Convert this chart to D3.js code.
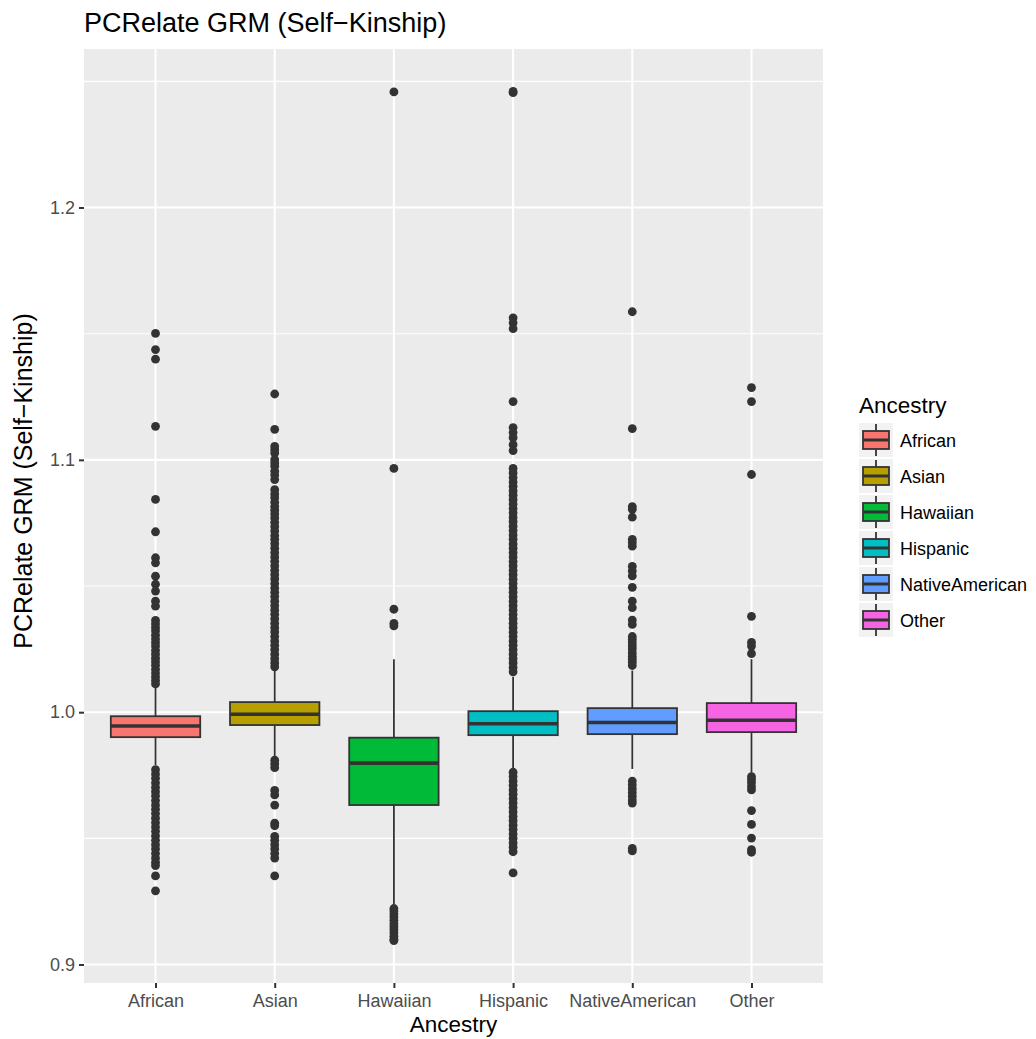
<!DOCTYPE html>
<html lang="en">
<head>
    <meta charset="UTF-8">
    <title>PCRelate GRM (Self-Kinship)</title>
    <script src="https://d3js.org/d3.v7.min.js"></script>
    <style>
        body { margin: 0; background: #fff; }
        text { font-family: "Liberation Sans", Arial, Helvetica, sans-serif; }
    </style>
</head>
<body>
<div id="chart"></div>
<script>
// categories and fill colours (ggplot default hue palette)
const ancestry = ["African", "Asian", "Hawaiian", "Hispanic", "NativeAmerican", "Other"];
const fills = ["#F8766D", "#B79F00", "#00BA38", "#00BFC4", "#619CFF", "#F564E3"];

// box statistics
const lowerHinge = [0.9901, 0.9949, 0.9632, 0.9909, 0.9913, 0.9921];
const medians    = [0.9945, 0.9992, 0.9798, 0.9954, 0.9959, 0.9968];
const upperHinge = [0.9984, 1.0040, 0.9899, 1.0004, 1.0016, 1.0036];
const whiskerLow  = [0.9790, 0.9820, 0.9240, 0.9772, 0.9775, 0.9760];
const whiskerHigh = [1.0100, 1.0170, 1.0210, 1.0140, 1.0165, 1.0210];

// outliers, per group
const outAfrican = [1.1501, 1.1437, 1.1399, 1.1133, 1.0843, 1.0715, 1.0612, 1.0592, 1.0539, 1.0507,
    1.0480, 1.0440, 1.0420, 1.0364, 1.0350, 1.0336, 1.0322, 1.0305, 1.0290, 1.0276, 1.0262, 1.0245,
    1.0230, 1.0214, 1.0200, 1.0186, 1.0170, 1.0155, 1.0140, 1.0126, 1.0112,
    0.9772, 0.9755, 0.9738, 0.9720, 0.9702, 0.9685, 0.9668, 0.9650, 0.9632, 0.9615, 0.9598, 0.9580,
    0.9562, 0.9545, 0.9528, 0.9510, 0.9492, 0.9475, 0.9458, 0.9440, 0.9422, 0.9405, 0.9392,
    0.9351, 0.9292];
const outAsian = [1.1261, 1.1121, 1.1053, 1.1040, 1.1027, 1.1001, 1.0988, 1.0975, 1.0955, 1.0940,
    1.0922, 1.0882, 1.0865, 1.0850, 1.0832, 1.0815, 1.0800, 1.0785, 1.0770, 1.0752, 1.0735, 1.0718,
    1.0700, 1.0685, 1.0668, 1.0650, 1.0632, 1.0615, 1.0598, 1.0580, 1.0562, 1.0545, 1.0528, 1.0510,
    1.0492, 1.0475, 1.0458, 1.0440, 1.0422, 1.0405, 1.0388, 1.0370, 1.0352, 1.0335, 1.0318, 1.0300,
    1.0282, 1.0265, 1.0248, 1.0230, 1.0212, 1.0195, 1.0180,
    0.9810, 0.9795, 0.9780, 0.9690, 0.9672, 0.9632, 0.9560, 0.9550, 0.9508, 0.9492, 0.9475, 0.9458,
    0.9440, 0.9422, 0.9351];
const outHawaiian = [1.2458, 1.0966, 1.0408, 1.0352, 1.0342,
    0.9222, 0.9212, 0.9200, 0.9188, 0.9175, 0.9162, 0.9150, 0.9138, 0.9125, 0.9112, 0.9100, 0.9095];
const outHispanic = [1.2460, 1.2455, 1.1563, 1.1543, 1.1520, 1.1231, 1.1128, 1.1108, 1.1088, 1.1060,
    1.1037, 1.0966, 1.0948, 1.0930, 1.0912, 1.0895, 1.0877, 1.0860, 1.0842, 1.0825, 1.0807, 1.0790,
    1.0772, 1.0755, 1.0737, 1.0720, 1.0702, 1.0685, 1.0667, 1.0650, 1.0632, 1.0615, 1.0597, 1.0580,
    1.0562, 1.0545, 1.0527, 1.0510, 1.0492, 1.0475, 1.0457, 1.0440, 1.0422, 1.0405, 1.0387, 1.0370,
    1.0352, 1.0335, 1.0317, 1.0300, 1.0282, 1.0265, 1.0247, 1.0230, 1.0212, 1.0195, 1.0177, 1.0160,
    0.9762, 0.9745, 0.9727, 0.9710, 0.9692, 0.9675, 0.9657, 0.9640, 0.9622, 0.9605, 0.9587, 0.9570,
    0.9552, 0.9535, 0.9517, 0.9500, 0.9482, 0.9465, 0.9447, 0.9363];
const outNativeAmerican = [1.1587, 1.1124, 1.0815, 1.0804, 1.0773, 1.0685, 1.0672, 1.0658, 1.0578,
    1.0560, 1.0540, 1.0495, 1.0440, 1.0414, 1.0365, 1.0348, 1.0300, 1.0288, 1.0275, 1.0262, 1.0250,
    1.0235, 1.0222, 1.0210, 1.0198, 1.0185,
    0.9727, 0.9712, 0.9697, 0.9682, 0.9667, 0.9652, 0.9640, 0.9460, 0.9450];
const outOther = [1.1286, 1.1231, 1.0942, 1.0380, 1.0277, 1.0262, 1.0232,
    0.9745, 0.9733, 0.9720, 0.9705, 0.9692, 0.9610, 0.9555, 0.9501, 0.9455, 0.9445];

const outliers = [outAfrican, outAsian, outHawaiian, outHispanic, outNativeAmerican, outOther];

const yTicks = [0.9, 1.0, 1.1, 1.2];
const yMinor = [0.95, 1.05, 1.15, 1.25];

// layout
const W = 1036, H = 1039;
const panel = { left: 84, right: 823, top: 49, bottom: 983 };
const dark = "#333333";

const svg = d3.select("#chart").append("svg")
    .attr("width", W)
    .attr("height", H);

// y domain from the data range, expanded 5% like ggplot
const allVals = outliers.flat().concat(whiskerLow, whiskerHigh);
const lo = d3.min(allVals), hi = d3.max(allVals);
const pad = (hi - lo) * 0.05;

const y = d3.scaleLinear()
    .domain([lo - pad, hi + pad])
    .range([panel.bottom, panel.top]);

const x = d3.scalePoint()
    .domain(ancestry)
    .range([panel.left, panel.right])
    .padding(0.6);

const boxW = x.step() * 0.75;

// panel background + grid
svg.append("rect")
    .attr("x", panel.left).attr("y", panel.top)
    .attr("width", panel.right - panel.left)
    .attr("height", panel.bottom - panel.top)
    .attr("fill", "#EBEBEB");

svg.selectAll("line.minor")
    .data(yMinor)
    .enter().append("line")
    .attr("class", "minor")
    .attr("x1", panel.left).attr("x2", panel.right)
    .attr("y1", d => y(d)).attr("y2", d => y(d))
    .attr("stroke", "#fff").attr("stroke-width", 1.1);

svg.selectAll("line.majorY")
    .data(yTicks)
    .enter().append("line")
    .attr("class", "majorY")
    .attr("x1", panel.left).attr("x2", panel.right)
    .attr("y1", d => y(d)).attr("y2", d => y(d))
    .attr("stroke", "#fff").attr("stroke-width", 2.1);

svg.selectAll("line.majorX")
    .data(ancestry)
    .enter().append("line")
    .attr("class", "majorX")
    .attr("x1", d => x(d)).attr("x2", d => x(d))
    .attr("y1", panel.top).attr("y2", panel.bottom)
    .attr("stroke", "#fff").attr("stroke-width", 2.1);

// boxplots
const groups = svg.selectAll("g.box")
    .data(ancestry)
    .enter().append("g")
    .attr("class", "box");

groups.append("line")
    .attr("x1", d => x(d)).attr("x2", d => x(d))
    .attr("y1", (d, i) => y(upperHinge[i])).attr("y2", (d, i) => y(whiskerHigh[i]))
    .attr("stroke", dark).attr("stroke-width", 1.8);

groups.append("line")
    .attr("x1", d => x(d)).attr("x2", d => x(d))
    .attr("y1", (d, i) => y(lowerHinge[i])).attr("y2", (d, i) => y(whiskerLow[i]))
    .attr("stroke", dark).attr("stroke-width", 1.8);

groups.append("rect")
    .attr("x", d => x(d) - boxW / 2)
    .attr("y", (d, i) => y(upperHinge[i]))
    .attr("width", boxW)
    .attr("height", (d, i) => y(lowerHinge[i]) - y(upperHinge[i]))
    .attr("fill", (d, i) => fills[i])
    .attr("stroke", dark).attr("stroke-width", 1.8);

groups.append("line")
    .attr("x1", d => x(d) - boxW / 2).attr("x2", d => x(d) + boxW / 2)
    .attr("y1", (d, i) => y(medians[i])).attr("y2", (d, i) => y(medians[i]))
    .attr("stroke", dark).attr("stroke-width", 3.6);

// outlier points
groups.selectAll("circle")
    .data((d, i) => outliers[i].map(v => ({ cat: d, v: v })))
    .enter().append("circle")
    .attr("cx", d => x(d.cat))
    .attr("cy", d => y(d.v))
    .attr("r", 4.4)
    .attr("fill", dark);

// axes
const xAxis = svg.append("g")
    .attr("transform", "translate(0," + panel.bottom + ")")
    .call(d3.axisBottom(x).tickSize(5).tickPadding(3));
const yAxis = svg.append("g")
    .attr("transform", "translate(" + panel.left + ",0)")
    .call(d3.axisLeft(y).tickValues(yTicks).tickFormat(d3.format(".1f")).tickSize(5).tickPadding(4));

[xAxis, yAxis].forEach(a => {
    a.select(".domain").remove();
    a.selectAll(".tick line").attr("stroke", dark).attr("stroke-width", 2);
    a.selectAll(".tick text")
        .attr("fill", "#4D4D4D")
        .style("font-size", "18px")
        .style("font-family", "'Liberation Sans', Arial, sans-serif");
});
xAxis.selectAll(".tick text").attr("dy", "0.9em");

// titles
svg.append("text")
    .attr("x", panel.left).attr("y", 32)
    .style("font-size", "27px")
    .attr("fill", "#000")
    .text("PCRelate GRM (Self\u2212Kinship)");

svg.append("text")
    .attr("x", (panel.left + panel.right) / 2).attr("y", 1032)
    .attr("text-anchor", "middle")
    .style("font-size", "22.5px")
    .text("Ancestry");

svg.append("text")
    .attr("transform", "translate(32,481) rotate(-90)")
    .attr("text-anchor", "middle")
    .style("font-size", "25px")
    .text("PCRelate GRM (Self\u2212Kinship)");

// legend
const legend = svg.append("g").attr("transform", "translate(859,0)");
legend.append("text")
    .attr("x", 0).attr("y", 413)
    .style("font-size", "22.5px")
    .text("Ancestry");

const keySize = 34, rowStep = 36, firstRow = 440;
const keys = legend.selectAll("g.key")
    .data(ancestry)
    .enter().append("g")
    .attr("class", "key")
    .attr("transform", (d, i) => "translate(0," + (firstRow + i * rowStep) + ")");

keys.append("rect")
    .attr("x", 0).attr("y", -keySize / 2)
    .attr("width", keySize).attr("height", keySize)
    .attr("fill", "#F2F2F2");

keys.append("line")
    .attr("x1", keySize / 2).attr("x2", keySize / 2)
    .attr("y1", -keySize / 2 + 1).attr("y2", keySize / 2 - 1)
    .attr("stroke", dark).attr("stroke-width", 1.8);

keys.append("rect")
    .attr("x", 4).attr("y", -9)
    .attr("width", keySize - 8).attr("height", 18)
    .attr("fill", (d, i) => fills[i])
    .attr("stroke", dark).attr("stroke-width", 1.8);

keys.append("line")
    .attr("x1", 4).attr("x2", keySize - 4)
    .attr("y1", 0).attr("y2", 0)
    .attr("stroke", dark).attr("stroke-width", 3);

keys.append("text")
    .attr("x", keySize + 7).attr("y", 6.5)
    .style("font-size", "18px")
    .text(d => d);
</script>
</body>
</html>
